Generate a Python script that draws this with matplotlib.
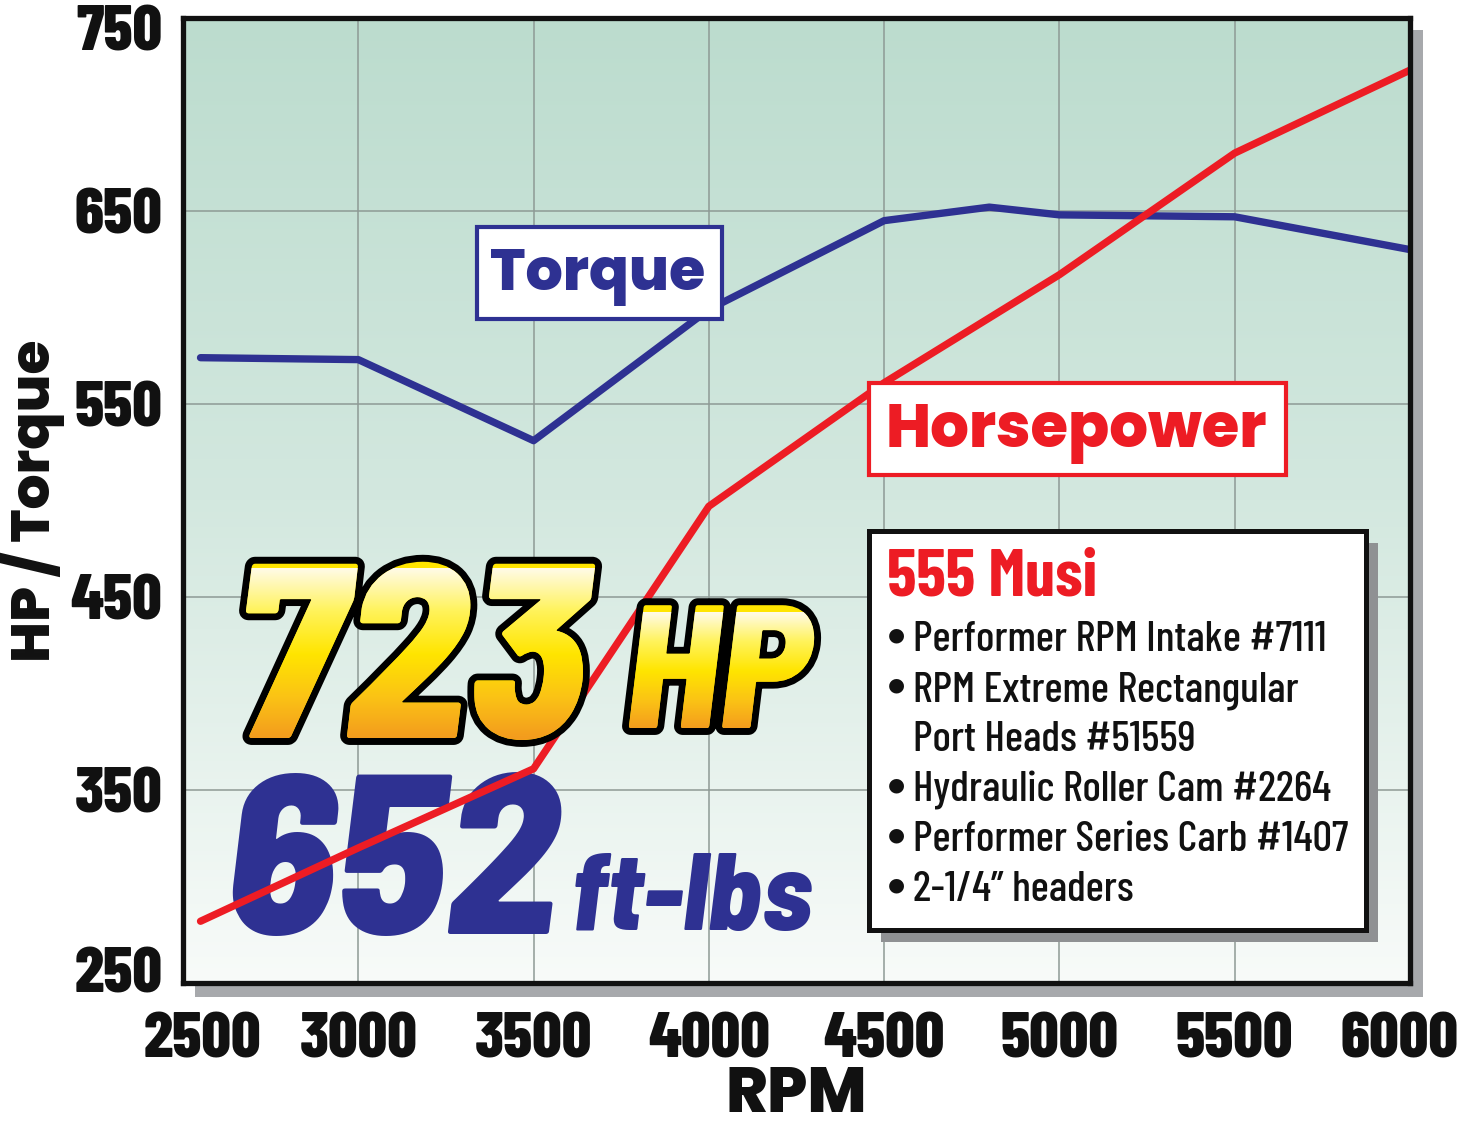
import numpy as np
import matplotlib
matplotlib.use("Agg")
import matplotlib.pyplot as plt
import matplotlib.font_manager as fm
import matplotlib.patheffects as pe
from matplotlib.patches import Rectangle, PathPatch
from matplotlib.textpath import TextPath
from matplotlib.transforms import Affine2D, ScaledTranslation
from matplotlib.colors import LinearSegmentedColormap

# ---- data ----
rpm_torque = [2550, 3000, 3500, 4000, 4500, 4800, 5000, 5500, 6000]
torque = [574, 573, 531, 599, 645, 652, 648, 647, 630]
rpm_hp = [2550, 3000, 3500, 4000, 4500, 5000, 5500, 6000]
hp = [282, 320, 361, 497, 561, 617, 680, 723]

x_ticks = [2500, 3000, 3500, 4000, 4500, 5000, 5500, 6000]
y_ticks = [250, 350, 450, 550, 650, 750]

peak_hp = "723"
peak_tq = "652"
spec_title = "555 Musi"
spec_lines = ["Performer RPM Intake #7111",
              "RPM Extreme Rectangular",
              "Port Heads #51559",
              "Hydraulic Roller Cam #2264",
              "Performer Series Carb #1407",
              "2-1/4\u201d headers"]
spec_bullets = [True, True, False, True, True, True]

BLUE = "#2e3192"
RED = "#ed1c24"

# ---- fonts ----
weights = {}
for f in fm.fontManager.ttflist:
    weights.setdefault(f.name, set()).add(f.weight)


def pick(cands, need=700):
    for c in cands:
        if c in weights and max(weights[c]) >= need:
            return c
    return "DejaVu Sans"


COND = pick(["Barlow Condensed", "Roboto Condensed", "Asap Condensed"])
BIG = pick(["Barlow Semi Condensed", "Barlow Condensed", "Asap Condensed"], 800)
GEO = pick(["Poppins", "Lato", "Open Sans"], 800)
K = 100 / 72  # points -> pixels


def fit(s, target_w, target_h=None, **kw):
    fp = fm.FontProperties(size=1, **kw)
    bb = TextPath((0, 0), s, prop=fp, size=100).get_extents()
    size = target_w / (bb.width / 100 * K)
    if target_h:
        size = np.sqrt(size * target_h / (bb.y1 / 100 * K))
    fp.set_size(size)
    return fp, bb.x0 / 100 * size * K


W, H = 1457, 1131
fig = plt.figure(figsize=(W / 100, H / 100), dpi=100)
fig.patch.set_facecolor("white")
ax = fig.add_axes([183 / W, 1 - 983 / H, (1410 - 183) / W, (983 - 18) / H])
# pixel coords of the picture (y down)
px = Affine2D().scale(1 / W, -1 / H).translate(0, 1) + fig.transFigure

ax.set_xlim(2500, 6000)
ax.set_ylim(250, 750)


def px_to_data(x, y):
    return ax.transData.inverted().transform(px.transform((x, y)))


# shadow behind the plot frame
fig.add_artist(Rectangle((195, 30), 1228, 967, transform=px,
                         facecolor="#a7a9ac", edgecolor="none", zorder=-1))

# background gradient
bg = LinearSegmentedColormap.from_list("bg", ["#bcdcce", "#d3e8df", "#f8fbf9"])
ax.imshow(np.linspace(0, 1, 256).reshape(-1, 1), cmap=bg, aspect="auto",
          extent=[2500, 6000, 250, 750], origin="upper", zorder=0)

ax.set_axisbelow(True)
ax.grid(True, color="#8e9a95", linewidth=1.1)
for s in ax.spines.values():
    s.set_linewidth(3.8)
    s.set_color("#111111")

# curves
ax.plot(rpm_torque, torque, color=BLUE, lw=5.3, solid_capstyle="round",
        solid_joinstyle="round", zorder=2)
ax.plot(rpm_hp, hp, color=RED, lw=5.3, solid_capstyle="round",
        solid_joinstyle="round", zorder=2)

# ticks
ax.set_xticks(x_ticks)
ax.set_yticks(y_ticks)
ax.tick_params(length=0)
ax.tick_params(axis="x", pad=21)
ax.tick_params(axis="y", pad=15)
tick_fp, _ = fit("2500", 113, 47, family=COND, weight=800)
for lab in ax.get_xticklabels() + ax.get_yticklabels():
    lab.set_fontproperties(tick_fp)
    lab.set_color("#111111")
xl = ax.get_xticklabels()
xl[0].set_transform(xl[0].get_transform() + ScaledTranslation(0.19, 0, fig.dpi_scale_trans))
xl[-1].set_transform(xl[-1].get_transform() + ScaledTranslation(-0.10, 0, fig.dpi_scale_trans))
yl = ax.get_yticklabels()
yl[0].set_transform(yl[0].get_transform() + ScaledTranslation(0, 0.13, fig.dpi_scale_trans))
yl[-1].set_transform(yl[-1].get_transform() + ScaledTranslation(0, -0.10, fig.dpi_scale_trans))

xlab_fp, _ = fit("RPM", 134, 45, family=GEO, weight=800)
ylab_fp, _ = fit("HP / Torque", 370, 45, family=GEO, weight=800)
ax.set_xlabel("RPM", fontproperties=xlab_fp, color="#111111", labelpad=-3)
ax.set_ylabel("HP / Torque", fontproperties=ylab_fp, color="#111111", labelpad=4)


# big peak numbers
def gradient_text(s, x, y, fp, colors, top, bottom, z):
    ax.text(x, y, s, transform=px, fontproperties=fp, color=colors[len(colors) // 2],
            ha="left", va="baseline", zorder=z,
            path_effects=[pe.Stroke(linewidth=10, foreground="black"), pe.Normal()])
    tpath = TextPath((0, 0), s, prop=fp, size=fp.get_size_in_points())
    clip = PathPatch(tpath, transform=Affine2D().scale(K, -K).translate(x, y) + px)
    x0, y0 = px_to_data(x - 30, top)
    x1, y1 = px_to_data(x + 700, bottom)
    cm = LinearSegmentedColormap.from_list("g", colors)
    im = ax.imshow(np.linspace(0, 1, 256).reshape(-1, 1), cmap=cm, aspect="auto",
                   extent=[x0, x1, y1, y0], origin="upper", zorder=z + 0.01)
    im.set_clip_path(clip)


gold = ["#fffbe8", "#fff35a", "#ffe500", "#fbc315", "#f39a1e"]
fp723, dx = fit(peak_hp, 362, 170, family=BIG, weight=800, style="italic")
gradient_text(peak_hp, 246 - dx, 738, fp723, gold, 568, 740, 3)
fphp, dx = fit("HP", 196, 116, family=BIG, weight=800, style="italic")
gradient_text("HP", 629 - dx, 728, fphp, gold, 612, 730, 3)

fp652, dx = fit(peak_tq, 328, 163, family=BIG, weight=800, style="italic")
ax.text(232 - dx, 934, peak_tq, transform=px, fontproperties=fp652, color=BLUE,
        ha="left", va="baseline", zorder=1.5)
fpft, dx = fit("ft-lbs", 247, 74, family=BIG, weight=800, style="italic")
ax.text(575 - dx, 930, "ft-lbs", transform=px, fontproperties=fpft, color=BLUE,
        ha="left", va="baseline", zorder=1.5)

# labels in boxes
ax.add_patch(Rectangle((477, 227), 245, 92, transform=px, facecolor="white",
                       edgecolor=BLUE, lw=3, zorder=4))
fpt, _ = fit("Torque", 210, 42, family=GEO, weight=800)
ax.text(598, 290, "Torque", transform=px, fontproperties=fpt, color=BLUE,
        ha="center", va="baseline", zorder=5)
ax.add_patch(Rectangle((869, 383), 417, 92, transform=px, facecolor="white",
                       edgecolor=RED, lw=3, zorder=4))
fph, _ = fit("Horsepower", 385, 42, family=GEO, weight=800)
ax.text(1076, 447, "Horsepower", transform=px, fontproperties=fph, color=RED,
        ha="center", va="baseline", zorder=5)

# spec box
ax.add_patch(Rectangle((881, 543), 497, 399, transform=px, facecolor="#8f9193",
                       edgecolor="none", zorder=3.9))
ax.add_patch(Rectangle((869, 531), 497, 399, transform=px, facecolor="white",
                       edgecolor="#111111", lw=3.6, zorder=4))
fps, dx = fit(spec_title, 206, family=COND, weight="bold")
ax.text(889 - dx, 595, spec_title, transform=px, fontproperties=fps, color=RED,
        ha="left", va="baseline", zorder=5)
line_fp, dx = fit(spec_lines[0], 409, family=COND, weight=500)
bul_fp = fm.FontProperties(family="DejaVu Sans", size=14)
for i, (line, bul) in enumerate(zip(spec_lines, spec_bullets)):
    yb = 651 + 50 * i
    if bul:
        ax.text(896, yb - 16, "\u25cf", transform=px, fontproperties=bul_fp, color="#111111",
                ha="center", va="center", zorder=5)
    ax.text(916 - dx, yb, line, transform=px, fontproperties=line_fp, color="#111111",
            ha="left", va="baseline", zorder=5)

ax.set_xlim(2500, 6000)
ax.set_ylim(250, 750)
fig.savefig("out.png", dpi=100)
